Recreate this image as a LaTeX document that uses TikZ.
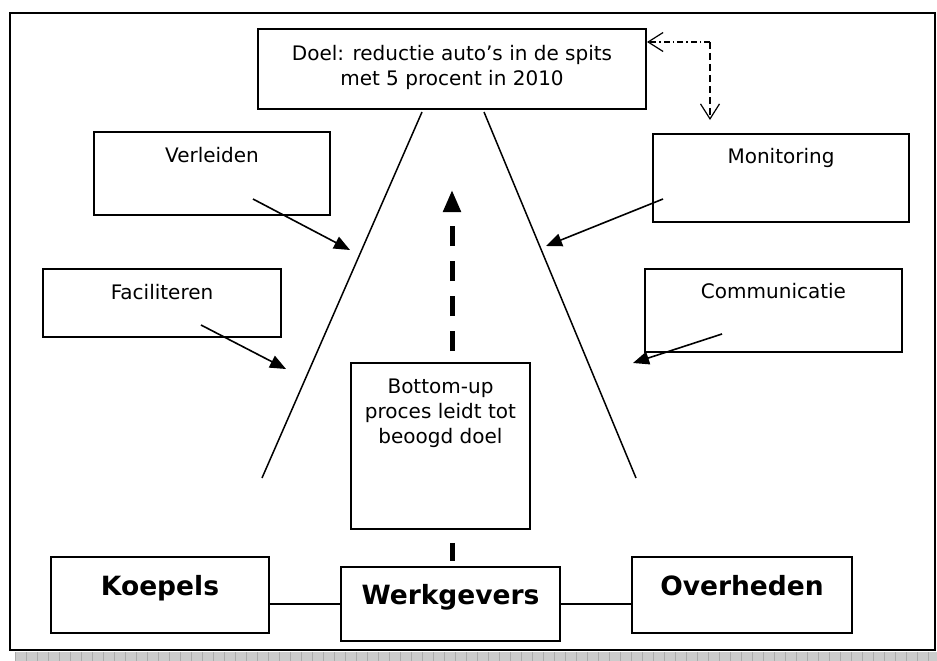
\documentclass[tikz,border=0pt]{standalone}
\usepackage{fontspec}
\setmainfont{DejaVu Sans}
\usetikzlibrary{arrows.meta,positioning}

\tikzset{
  box/.style={draw, line width=1.8pt, inner sep=0pt},
  txt/.style={inner sep=0pt, align=center, font=\fontsize{20}{25}\selectfont},
  bigtxt/.style={inner sep=0pt, font=\fontsize{26.5}{30}\selectfont\bfseries},
  push/.style={line width=1.6pt, -{Triangle[length=16pt,width=13pt]}},
  side/.style={line width=1.5pt},
  loop/.style={line width=1.2pt, -{Straight Barb[length=15pt,width=19pt]}},
  thickdash/.style={line width=5pt},
}

\begin{document}
\begin{tikzpicture}[x=1pt,y=-1pt]

\useasboundingbox (0,0) rectangle (937,661);

	%%% frame
    \fill[gray!40] (15,652) rectangle (937,661);
    \foreach \i in {15,26,...,937}
      \draw[gray!65, line width=0.6pt] (\i,652) -- (\i,661);
    \draw[line width=2pt] (10,13) rectangle (935,650);

	%%% boxes
    \node[box, minimum width=388pt, minimum height=80pt] (doel) at (452,69) {};
    \node[txt, below=17pt of doel.north] (doeltxt) {Doel: reductie auto’s in de spits\\met 5 procent in 2010};

    \node[box, minimum width=236pt, minimum height=83pt] (verl) at (212,173.5) {};
    \node[txt, below=16pt of verl.north] (verltxt) {Verleiden};

    \node[box, minimum width=238pt, minimum height=68pt] (faci) at (162,303) {};
    \node[txt, below=16pt of faci.north] (facitxt) {Faciliteren};

    \node[box, minimum width=256pt, minimum height=88pt] (moni) at (781,178) {};
    \node[txt, below=15pt of moni.north] (monitxt) {Monitoring};

    \node[box, minimum width=257pt, minimum height=83pt] (comm) at (773.5,310.5) {};
    \node[txt, below=15pt of comm.north] (commtxt) {Communicatie};

    \node[box, minimum width=179pt, minimum height=166pt] (bottomup) at (440.5,446) {};
    \node[txt, below=17pt of bottomup.north] (bottomuptxt) {Bottom-up\\proces leidt tot\\beoogd doel};

    \node[box, minimum width=218pt, minimum height=76pt] (koep) at (160,595) {};
    \node[bigtxt, below=19pt of koep.north] (koeptxt) {Koepels};

    \node[box, minimum width=219pt, minimum height=74pt] (werk) at (450.5,604) {};
    \node[bigtxt, below=18pt of werk.north] (werktxt) {Werkgevers};

    \node[box, minimum width=220pt, minimum height=76pt] (overh) at (742,595) {};
    \node[bigtxt, below=19pt of overh.north] (overhtxt) {Overheden};

	%%% links
    \draw[line width=1.5pt] (werk.west) -- (werk.west -| koep.east);
    \draw[line width=1.5pt] (werk.east) -- (werk.east -| overh.west);

	%%% funnel
    \coordinate (L1) at (422,112);
    \coordinate (L2) at (262,478);
    \coordinate (R1) at (484,112);
    \coordinate (R2) at (636,478);
    \draw[side] (L1) -- (L2);
    \draw[side] (R1) -- (R2);

	%%% arrows
    \coordinate (verlfrom) at (253,199);
    \coordinate (verlto) at (350,250);
    \coordinate (facifrom) at (201,325);
    \coordinate (facito) at (286,369);
    \coordinate (monifrom) at (663,199);
    \coordinate (monito) at (546,246);
    \coordinate (commfrom) at (722,334);
    \coordinate (commto) at (633,363);

    \draw[push] (verlfrom) -- (verlto);
    \draw[push] (facifrom) -- (facito);
    \draw[push] (monifrom) -- (monito);
    \draw[push] (commfrom) -- (commto);

	%%% bottom-up
    \coordinate (upstart) at (452,363);
    \coordinate (uptip) at (452,190);
    \draw[thickdash, dash pattern=on 20pt off 15pt, dash phase=23pt,
          -{Triangle[length=22pt,width=17pt]}] (upstart) -- (uptip);
    \draw[thickdash, dash pattern=on 18pt off 20pt, dash phase=25pt]
          (bottomup.south -| upstart) -- (werk.north -| upstart);

	%%% feedback loop
    \coordinate (loopend) at (647,42);
    \coordinate (loopcorner) at (710,42);
    \coordinate (looptip) at (710,120);
    \draw[loop, dash pattern=on 6pt off 3pt on 1.5pt off 3pt] (loopcorner) -- (loopend);
    \draw[loop, dash pattern=on 7pt off 4pt] (loopcorner) -- (looptip);

\end{tikzpicture}
\end{document}
